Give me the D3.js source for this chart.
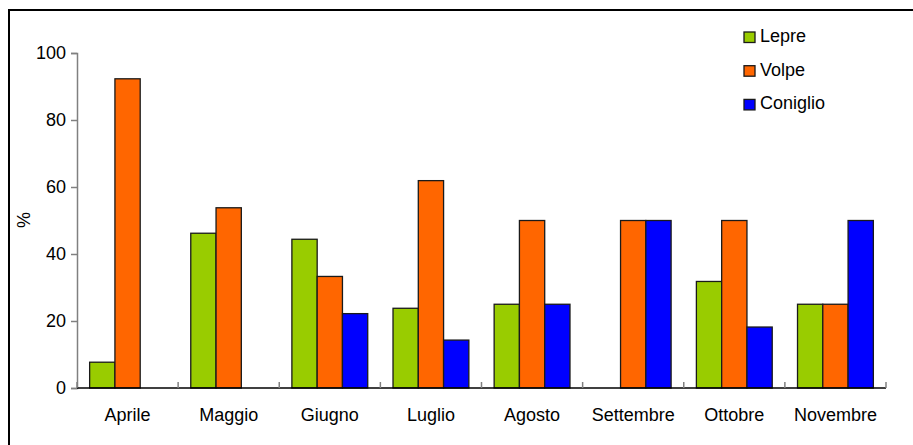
<!DOCTYPE html>
<html>
<head>
<meta charset="utf-8">
<script src="https://cdn.jsdelivr.net/npm/d3@7/dist/d3.min.js"></script>
<style>
html,body{margin:0;padding:0;background:#fff;}
svg{display:block;font-family:Arial,"Liberation Sans",sans-serif;}
</style>
</head>
<body>
<svg id="chart" width="913" height="445"></svg>
<script>
const categories = ["Aprile","Maggio","Giugno","Luglio","Agosto","Settembre","Ottobre","Novembre"];
const seriesNames = ["Lepre","Volpe","Coniglio"];
const lepre    = [7.7, 46.2, 44.4, 23.8, 25, 0, 31.8, 25];
const volpe    = [92.3, 53.8, 33.3, 61.9, 50, 50, 50, 25];
const coniglio = [0, 0, 22.2, 14.3, 25, 50, 18.2, 50];
const yTicks = [0,20,40,60,80,100];
const colors = ["#99CC00","#FF6600","#0000FF"];
const seriesValues = [lepre, volpe, coniglio];

(function(){
const svg = d3.select("#chart");
const W = 913, H = 445;
const FS = 18;

// outer border
svg.append("rect").attr("x",9).attr("y",10).attr("width",W+20).attr("height",H+20)
  .attr("fill","none").attr("stroke","#000").attr("stroke-width",2);

const pLeft = 77, pRight = 886, pTop = 53, pBottom = 388;

const x0 = d3.scaleBand().domain(categories).range([pLeft,pRight]).padding(0);
// gap width 100%: each bar = band/4, half-gap each side
const x1 = d3.scaleBand().domain(seriesNames)
  .range([x0.bandwidth()/8, x0.bandwidth()*7/8]).padding(0);
const y = d3.scaleLinear().domain([0,100]).range([pBottom,pTop]);

// bars
const g = svg.append("g");
categories.forEach((c,i)=>{
  seriesNames.forEach((s,j)=>{
    const v = seriesValues[j][i];
    if (v <= 0) return;
    g.append("rect")
      .attr("x", x0(c)+x1(s))
      .attr("y", y(v))
      .attr("width", x1.bandwidth())
      .attr("height", y(0)-y(v))
      .attr("fill", colors[j])
      .attr("stroke","#1a1a1a").attr("stroke-width",1.3);
  });
});

// y axis
const yAxis = d3.axisLeft(y).tickValues(yTicks).tickSize(6).tickPadding(5);
const ya = svg.append("g").attr("transform",`translate(${pLeft},0)`).call(yAxis);
ya.select(".domain").attr("stroke","#808080").attr("stroke-width",1.5);
ya.selectAll(".tick line").attr("stroke","#808080").attr("stroke-width",1.5);
ya.selectAll(".tick text").attr("font-size",FS).attr("fill","#000")
  .attr("font-family","Arial, 'Liberation Sans', sans-serif");

// x axis
const xa = svg.append("g").attr("transform",`translate(0,${pBottom})`);
xa.append("line").attr("x1",pLeft).attr("x2",pRight).attr("y1",0).attr("y2",0)
  .attr("stroke","#000").attr("stroke-width",1.5);
const boundaries = categories.map(c=>x0(c)).concat([pRight]);
xa.selectAll("line.tk").data(boundaries).enter().append("line").attr("class","tk")
  .attr("x1",d=>d).attr("x2",d=>d).attr("y1",0).attr("y2",-6)
  .attr("stroke","#808080").attr("stroke-width",1.5);
xa.selectAll("text").data(categories).enter().append("text")
  .attr("x",d=>x0(d)+x0.bandwidth()/2).attr("y",33)
  .attr("text-anchor","middle").attr("font-size",FS).attr("fill","#000")
  .text(d=>d);

// y label
svg.append("text").attr("transform","translate(30,220) rotate(-90)")
  .attr("text-anchor","middle").attr("font-size",FS).attr("fill","#000").text("%");

// legend
const lg = svg.append("g");
seriesNames.forEach((s,j)=>{
  const yb = 42 + j*33.7;
  lg.append("rect").attr("x",744).attr("y",yb-10).attr("width",11).attr("height",10.5)
    .attr("fill",colors[j]).attr("stroke","#1a1a1a").attr("stroke-width",1.3);
  lg.append("text").attr("x",760).attr("y",yb).attr("font-size",FS).attr("fill","#000").text(s);
});
})();
</script>
</body>
</html>
